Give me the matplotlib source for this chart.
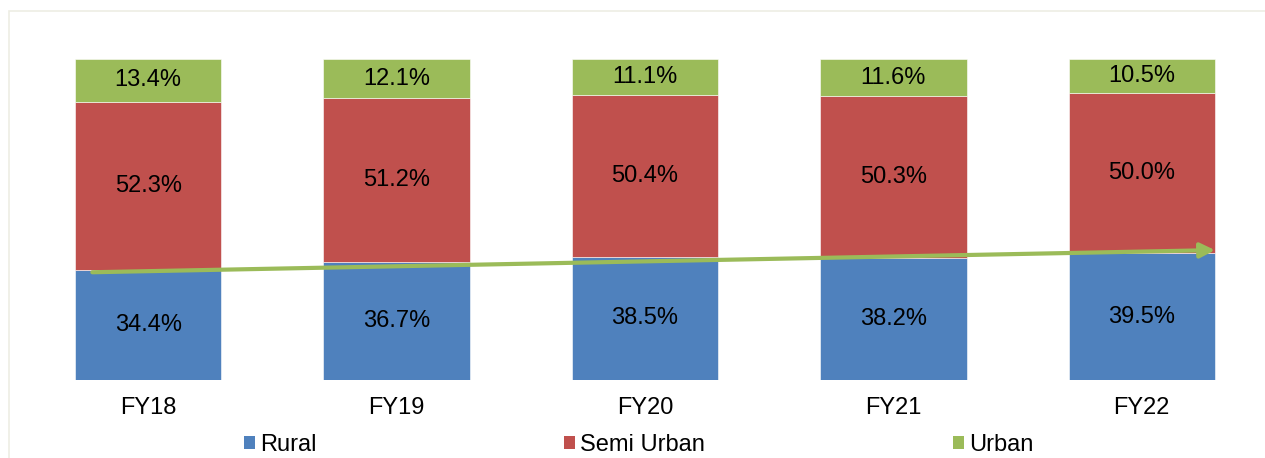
import matplotlib
matplotlib.use("Agg")
import matplotlib.pyplot as plt
from matplotlib.patches import Rectangle, Patch
import numpy as np

# data
years      = ['FY18', 'FY19', 'FY20', 'FY21', 'FY22']
rural      = [34.4, 36.7, 38.5, 38.2, 39.5]
semi_urban = [52.3, 51.2, 50.4, 50.3, 50.0]
urban      = [13.4, 12.1, 11.1, 11.6, 10.5]

COLORS = {
    'Rural':      '#4F81BD',
    'Semi Urban': '#C0504D',
    'Urban':      '#9BBB59',
}

plt.rcParams['font.family'] = ['Liberation Sans', 'DejaVu Sans']

fig = plt.figure(figsize=(12.65, 4.58), dpi=100)
fig.patch.set_facecolor('white')

# light frame around the chart area
fig.patches.append(Rectangle((9 / 1265, -0.05), 1.2, 1 - 11 / 458 + 0.05,
                             transform=fig.transFigure, fill=False,
                             edgecolor='#EDEDE4', linewidth=1.2))

ax = fig.add_axes([24 / 1265, 1 - 380 / 458, 1242 / 1265, 321 / 458])

x = np.arange(len(years))
width = 0.59
series = [('Rural', rural), ('Semi Urban', semi_urban), ('Urban', urban)]

bottom = np.zeros(len(years))
for name, vals in series:
    vals = np.array(vals)
    ax.bar(x, vals, width, bottom=bottom, color=COLORS[name],
           edgecolor='white', linewidth=0.4)
    for xi, b, v in zip(x, bottom, vals):
        ax.text(xi, b + v / 2, f"{v:.1f}%", ha='center', va='center',
                fontsize=17, color='black')
    bottom += vals

# trend arrow along the rural share
ax.annotate('', xy=(x[-1] + width / 2, rural[-1] + 1.0),
            xytext=(x[0] - width / 2 + 0.07, rural[0] - 0.8),
            arrowprops=dict(arrowstyle='-|>', color=COLORS['Urban'], lw=3,
                            mutation_scale=22, shrinkA=0, shrinkB=0),
            zorder=6)

ax.set_xlim(-0.5, 4.5)
ax.set_ylim(0, 100.1)
ax.set_xticks(x)
ax.set_xticklabels(years, fontsize=17)
ax.tick_params(axis='x', length=0, pad=12)
ax.set_yticks([])
for s in ax.spines.values():
    s.set_visible(False)

handles = [Patch(facecolor=COLORS[n], edgecolor='none') for n, _ in series]
fig.legend(handles, [n for n, _ in series], loc='center',
           bbox_to_anchor=(0.5 + 6 / 1265, 1 - 445 / 458), ncol=3, frameon=False,
           fontsize=17, handlelength=0.48, handleheight=0.48,
           handletextpad=0.2, columnspacing=10.5, borderpad=0)

fig.savefig('out.png', dpi=100, facecolor='white')
